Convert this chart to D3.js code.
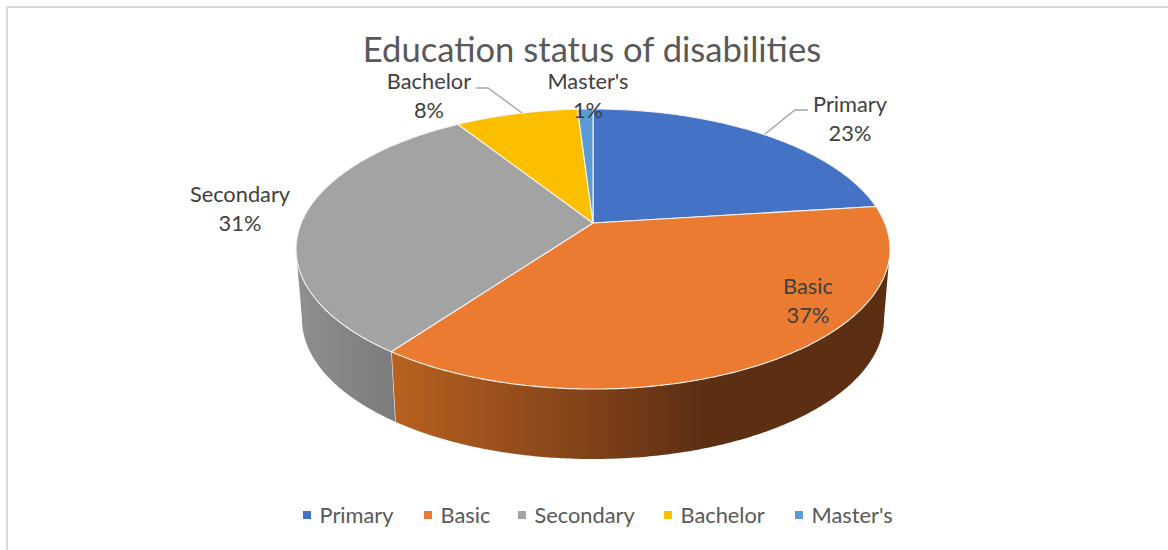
<!DOCTYPE html>
<html>
<head>
<meta charset="utf-8">
<script src="https://cdn.jsdelivr.net/npm/d3@7"></script>
<style>
  html, body { margin: 0; padding: 0; background: #fff; }
  svg { display: block; }
  text { font-family: Lato, "Open Sans", sans-serif; }
</style>
</head>
<body>
<svg id="chart" width="1168" height="550"></svg>
<script>
// Education status breakdown, in percent
const categories = ["Primary", "Basic", "Secondary", "Bachelor", "Master's"];
const shares = [23, 37, 31, 8, 1];
const colours = ["#4472c4", "#ea7b30", "#a3a3a3", "#fcbf00", "#5b9bd5"];

const svg = d3.select("#chart");
const width = 1168, height = 550;

// Frame of the chart area: open on the right and bottom edges
svg.append("path")
  .attr("d", d3.line()([[7, height], [7, 7], [width, 7]]))
  .attr("fill", "none").attr("stroke", "#d9d9d9").attr("stroke-width", 2);

// Tilted disc: a projective map of the unit circle gives the off-centre apex
const cx = 593, apexY = 223;
const tilt = 0.1857, radiusX = 291.8, radiusY = 135.2;
const depth = 70, baseShrink = 0.98;

function project(theta, t) {
  const u = Math.sin(theta), v = -Math.cos(theta), w = 1 - tilt * v;
  return [
    cx + radiusX * (1 - (1 - baseShrink) * t) * u / w,
    apexY + radiusY * v / w + depth * t
  ];
}

const pie = d3.pie().value(d => d).sort(null);
const arcs = pie(shares);
const line = d3.line();
const step = Math.PI / 360;
const sample = (a, b) => d3.range(a, b, step).concat([b]);

// Part of the rim facing the viewer
const frontStart = Math.PI / 2 + Math.asin(tilt);
const frontEnd = 2 * Math.PI - frontStart;

const defs = svg.append("defs");
function sideGradient(id, x1, x2, stops) {
  const g = defs.append("linearGradient").attr("id", id)
    .attr("gradientUnits", "userSpaceOnUse")
    .attr("x1", x1).attr("x2", x2).attr("y1", 0).attr("y2", 0);
  stops.forEach(([o, c]) => g.append("stop").attr("offset", o).attr("stop-color", c));
}
sideGradient("side-1", 390, 890, [[0, "#b8621f"], [0.38, "#84431a"], [0.62, "#5c2f13"], [1, "#5c2f13"]]);
sideGradient("side-2", 297, 392, [[0, "#8f8f8f"], [1, "#7c7c7c"]]);

// Side wall of each slice that reaches the front of the disc
const sides = svg.append("g");
arcs.forEach((d, i) => {
  const a = Math.max(d.startAngle, frontStart), b = Math.min(d.endAngle, frontEnd);
  if (a >= b) return;
  const angles = sample(a, b);
  const pts = angles.map(t => project(t, 0))
    .concat(angles.slice().reverse().map(t => project(t, 1)));
  sides.append("path")
    .attr("d", line(pts) + "Z")
    .attr("fill", `url(#side-${i})`);
  // White seam where two walls meet
  if (d.endAngle < frontEnd) {
    sides.append("path")
      .attr("d", line([project(d.endAngle, 0), project(d.endAngle, 1)]))
      .attr("stroke", "#f2f2f2").attr("stroke-width", 1.2).attr("fill", "none");
  }
});

// Top face of the slices
svg.append("g").selectAll("path").data(arcs).join("path")
  .attr("d", d => line([[cx, apexY]].concat(sample(d.startAngle, d.endAngle).map(t => project(t, 0)))) + "Z")
  .attr("fill", (d, i) => colours[i])
  .attr("stroke", "#f4f4f4").attr("stroke-width", 1.1).attr("stroke-linejoin", "round");

// Leader lines
svg.append("g").selectAll("path")
  .data([[[765, 134], [795, 110], [808, 110]], [[522, 113], [488, 88], [476, 88]]])
  .join("path")
  .attr("d", d => line(d))
  .attr("fill", "none").attr("stroke", "#a6a6a6").attr("stroke-width", 1.4);

// Title
svg.append("text").attr("x", 592).attr("y", 62).attr("text-anchor", "middle")
  .attr("font-size", 34.6).attr("fill", "#595959")
  .text("Education status of disabilities");

// Data labels: category over percentage
const labelAnchors = [[850, 104], [808, 286], [240, 194], [429, 81], [588, 81]];
const labels = svg.append("g").attr("fill", "#404040").attr("font-size", 21.8).attr("text-anchor", "middle");
categories.forEach((name, i) => {
  const [x, y] = labelAnchors[i];
  labels.append("text").attr("x", x).attr("y", y).attr("dy", "0.35em").text(name);
  labels.append("text").attr("x", x).attr("y", y + 29).attr("dy", "0.35em").text(shares[i] + "%");
});

// Legend
const legendX = [303, 424, 518, 664, 795];
const legend = svg.append("g").selectAll("g").data(categories).join("g")
  .attr("transform", (d, i) => `translate(${legendX[i]},515)`);
legend.append("rect").attr("x", 0).attr("y", -4).attr("width", 8).attr("height", 8)
  .attr("fill", (d, i) => colours[i]);
legend.append("text").attr("x", 16.5).attr("dy", "0.35em")
  .attr("font-size", 21.8).attr("fill", "#595959").text(d => d);
</script>
</body>
</html>
